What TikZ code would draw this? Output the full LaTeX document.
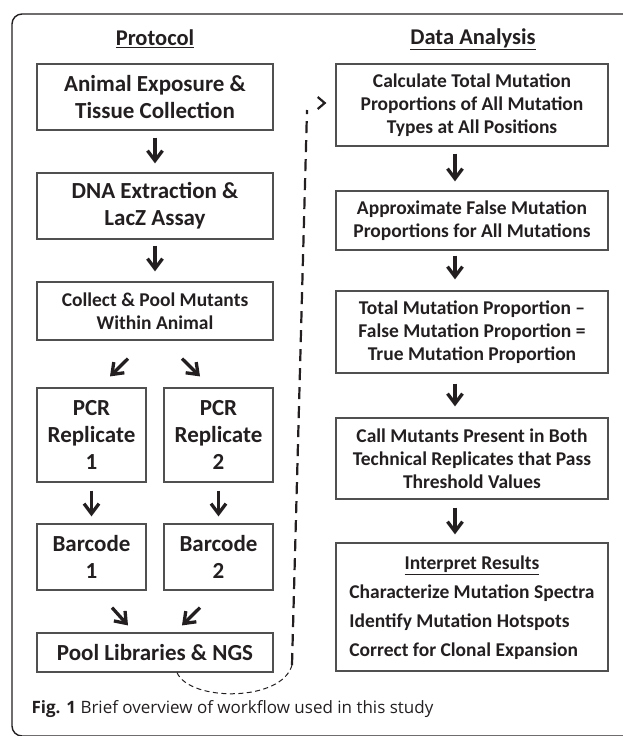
\documentclass[tikz,border=0pt]{standalone}
\usepackage{fontspec}
\setmainfont{Carlito}
\newfontfamily\capfont{Open Sans}
\usetikzlibrary{arrows.meta, positioning}
\definecolor{inkgray}{RGB}{35,31,32}
\definecolor{boxgray}{RGB}{80,80,80}

\begin{document}
\begin{tikzpicture}[x=1pt, y=-1pt,
    stepbox/.style={draw=boxgray, line width=1.2pt, align=center, text=inkgray, inner sep=2pt,
        font=\bfseries\fontsize{19.5}{23}\selectfont},
    bigbox/.style={stepbox, font=\bfseries\fontsize{23}{27}\selectfont},
    flow/.style={-{Straight Barb[length=10pt,width=15pt]}, line width=3.3pt, inkgray},
    backloop/.style={line width=1pt, inkgray}]
            \useasboundingbox (0,0) rectangle (622,736);
            \draw[line width=1.4pt, inkgray, rounded corners=10pt] (12,14) rectangle (660,736);

            % headings
            \node[font=\bfseries\fontsize{22.5}{26}\selectfont, text=inkgray] (prot) at (155,39) {\underline{Protocol}};
            \node[font=\bfseries\fontsize{22.5}{26}\selectfont, text=inkgray] (data) at (473,39) {\underline{Data Analysis}};

            % protocol column
            \node[bigbox, minimum width=236pt, minimum height=66pt] (expo) at (155,97) {Animal Exposure \&\\Tissue Collection};
            \node[bigbox, minimum width=236pt, minimum height=66pt] (dna) at (155,206) {DNA Extraction \&\\LacZ Assay};
            \node[stepbox, minimum width=236pt, minimum height=58pt] (pool) at (155,311) {Collect \& Pool Mutants\\Within Animal};
            \node[bigbox, minimum width=109pt, minimum height=94pt] (pcra) at (91.5,435) {PCR\\Replicate\\1};
            \node[bigbox, minimum width=109pt, minimum height=94pt] (pcrb) at (218.5,435) {PCR\\Replicate\\2};
            \node[bigbox, minimum width=109pt, minimum height=66pt] (bara) at (91.5,557) {Barcode\\1};
            \node[bigbox, minimum width=109pt, minimum height=66pt] (barb) at (218.5,557) {Barcode\\2};
            \node[bigbox, minimum width=236pt, minimum height=39pt] (ngs) at (155,652.5) {Pool Libraries \& NGS};

            \draw[flow, shorten <=7pt, shorten >=9pt] (expo) -- (dna);
            \draw[flow, shorten <=6pt, shorten >=10pt] (dna) -- (pool);
            \draw[flow] ([xshift=-27pt,yshift=-18pt]pool.south) -- ([xshift=18.5pt,yshift=11pt]pcra.north);
            \draw[flow] ([xshift=27pt,yshift=-18pt]pool.south) -- ([xshift=-18.5pt,yshift=11pt]pcrb.north);
            \draw[flow, shorten <=8pt, shorten >=7pt] (pcra) -- (bara);
            \draw[flow, shorten <=8pt, shorten >=7pt] (pcrb) -- (barb);
            \draw[flow] ([xshift=20.5pt,yshift=-17pt]bara.south) -- ([xshift=-27pt,yshift=7pt]ngs.north);
            \draw[flow] ([xshift=-18.5pt,yshift=-17pt]barb.south) -- ([xshift=27pt,yshift=7pt]ngs.north);

            % data analysis column
            \node[stepbox, minimum width=272pt, minimum height=82pt] (total) at (472,105) {Calculate Total Mutation\\Proportions of All Mutation\\Types at All Positions};
            \node[stepbox, minimum width=272pt, minimum height=59pt] (false) at (472,220.5) {Approximate False Mutation\\Proportions for All Mutations};
            \node[stepbox, minimum width=272pt, minimum height=82pt] (true) at (472,332) {Total Mutation Proportion --\\False Mutation Proportion =\\True Mutation Proportion};
            \node[stepbox, minimum width=272pt, minimum height=81pt] (call) at (472,458.5) {Call Mutants Present in Both\\Technical Replicates that Pass\\Threshold Values};
            \node[stepbox, minimum width=272pt, minimum height=128pt, font=\bfseries\fontsize{19.5}{29}\selectfont] (interp) at (472,607) {%
                \begin{tabular}{@{}l@{}}
                    \multicolumn{1}{@{}c@{}}{\underline{Interpret Results}}\\
                    Characterize Mutation Spectra\\
                    Identify Mutation Hotspots\\
                    Correct for Clonal Expansion
                \end{tabular}};

            \draw[flow, shorten <=7pt, shorten >=9pt] ([xshift=-17pt]total.south) -- ([xshift=-17pt]false.north);
            \draw[flow, shorten <=5pt, shorten >=11pt] ([xshift=-17pt]false.south) -- ([xshift=-17pt]true.north);
            \draw[flow, shorten <=10pt, shorten >=11pt] ([xshift=-17pt]true.south) -- ([xshift=-17pt]call.north);
            \draw[flow, shorten <=8pt, shorten >=8pt] ([xshift=-17pt]call.south) -- ([xshift=-17pt]interp.north);

            % results go on to the analysis
            \coordinate (turn) at (292,665);
            \coordinate (rise) at (307,110);
            \draw[backloop, dash pattern=on 5pt off 3.5pt] ([xshift=22pt]ngs.south) .. controls (190,702) and (282,702) .. (turn);
            \draw[backloop, dash pattern=on 12pt off 7pt, line width=2.2pt] (turn) -- (rise);
            \draw[backloop, line width=2.2pt, -{Straight Barb[length=7pt,width=12pt]}]
                ([xshift=-9pt,yshift=2pt]total.west) ++(-1pt,0) -- ([xshift=-9pt,yshift=2pt]total.west);

            \node[anchor=base west, font=\capfont\fontsize{17}{20}\selectfont, text=inkgray] (cap) at (28,713)
                {\textbf{Fig. 1} Brief overview of workflow used in this study};
        \end{tikzpicture}
\end{document}
